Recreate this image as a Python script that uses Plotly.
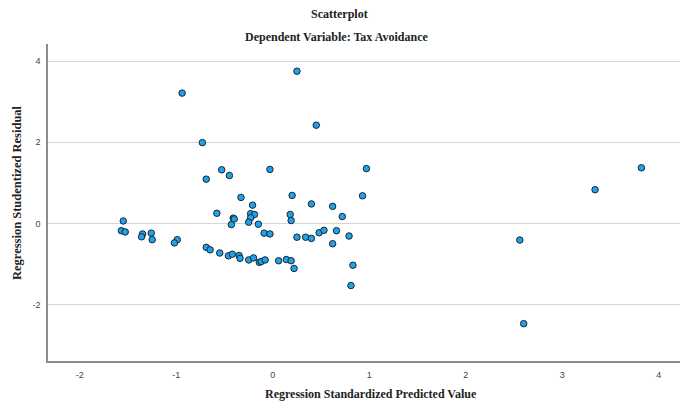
import plotly.graph_objects as go

# Regression Standardized Predicted Value
pred = [-1.55, -1.57, -1.53, -1.35, -1.36, -1.26, -1.25, -0.99, -1.02, -0.69,
        -0.65, -0.55, -0.46, -0.42, -0.35, -0.34, -0.25, -0.20, -0.14, -0.12,
        -0.08, 0.06, 0.14, 0.19, 0.22, 0.83, 0.81, -0.58, -0.33, -0.21,
        -0.41, -0.40, -0.43, -0.23, -0.19, -0.23, -0.25, -0.15, -0.94, 0.25,
        0.45, -0.73, -0.53, -0.69, -0.45, -0.03, 0.97, 0.20, 0.93, 0.40,
        0.62, 0.72, 0.18, 0.19, -0.09, -0.03, 0.25, 0.34, 0.40, 0.48,
        0.53, 0.66, 0.79, 0.62, 3.82, 3.34, 2.56, 2.60]

# Regression Studentized Residual
resid = [0.06, -0.18, -0.21, -0.26, -0.33, -0.24, -0.40, -0.40, -0.48, -0.59,
         -0.65, -0.73, -0.80, -0.76, -0.79, -0.86, -0.90, -0.85, -0.96, -0.94,
         -0.90, -0.92, -0.89, -0.92, -1.11, -1.03, -1.53, 0.25, 0.64, 0.45,
         0.13, 0.11, -0.03, 0.24, 0.22, 0.14, 0.03, -0.02, 3.21, 3.75,
         2.42, 1.99, 1.32, 1.09, 1.18, 1.33, 1.35, 0.69, 0.68, 0.48,
         0.42, 0.17, 0.22, 0.07, -0.24, -0.26, -0.34, -0.34, -0.37, -0.23,
         -0.17, -0.18, -0.31, -0.50, 1.37, 0.83, -0.41, -2.47]

x_ticks = [-2, -1, 0, 1, 2, 3, 4]
x_tick_labels = ["-2", "-1", "0", "1", "2", "3", "4"]
y_ticks = [-2, 0, 2, 4]
y_tick_labels = ["-2", "0", "2", "4"]

title = "Scatterplot"
subtitle = "Dependent Variable: Tax Avoidance"
x_title = "Regression Standardized Predicted Value"
y_title = "Regression Studentized Residual"

serif = "Liberation Serif, Times New Roman, serif"
sans = "Liberation Sans, Arial, sans-serif"

fig = go.Figure()
fig.add_trace(go.Scatter(
    x=pred, y=resid, mode="markers",
    marker=dict(size=6.5, color="#1fa2ea", line=dict(color="#1a2530", width=1)),
    hoverinfo="x+y", showlegend=False,
))

fig.update_layout(
    width=681, height=403,
    margin=dict(l=48, r=1, t=44, b=42),
    paper_bgcolor="white", plot_bgcolor="white",
    xaxis=dict(
        range=[-2.33, 4.22], tickvals=x_ticks, ticktext=x_tick_labels,
        showgrid=False, zeroline=False,
        showline=True, linecolor="#8c8c8c", linewidth=1.5, ticks="",
        tickfont=dict(family=sans, size=9, color="#444"), ticklabelstandoff=4,
    ),
    yaxis=dict(
        range=[-3.39, 4.42], tickvals=y_ticks, ticktext=y_tick_labels,
        showgrid=True, gridcolor="#d6d6d6",
        gridwidth=1, zeroline=False, showline=True, linecolor="#8c8c8c", linewidth=1.5,
        ticks="", tickfont=dict(family=sans, size=9, color="#444"), ticklabelstandoff=4,
    ),
    annotations=[
        dict(text=f"<b>{title}</b>", xref="paper", yref="paper", x=0.462, y=1.0946,
             xanchor="center", yanchor="middle", showarrow=False,
             font=dict(family=serif, size=12, color="#222")),
        dict(text=f"<b>{subtitle}</b>", xref="paper", yref="paper", x=0.457, y=1.022,
             xanchor="center", yanchor="middle", showarrow=False,
             font=dict(family=serif, size=12, color="#222")),
        dict(text=f"<b>{x_title}</b>", xref="paper", yref="paper", x=0.511, y=-0.104,
             xanchor="center", yanchor="middle", showarrow=False,
             font=dict(family=serif, size=12, color="#222")),
        dict(text=f"<b>{y_title}</b>", xref="paper", yref="paper", x=-0.049, y=0.53,
             xanchor="center", yanchor="middle", showarrow=False, textangle=-90,
             font=dict(family=serif, size=12.5, color="#222")),
    ],
)

fig.write_html(
    "out.html",
    config={"displayModeBar": False},
    post_script="document.body.style.margin='0px';document.body.style.padding='0px';"
                "document.documentElement.style.overflow='hidden';",
)
